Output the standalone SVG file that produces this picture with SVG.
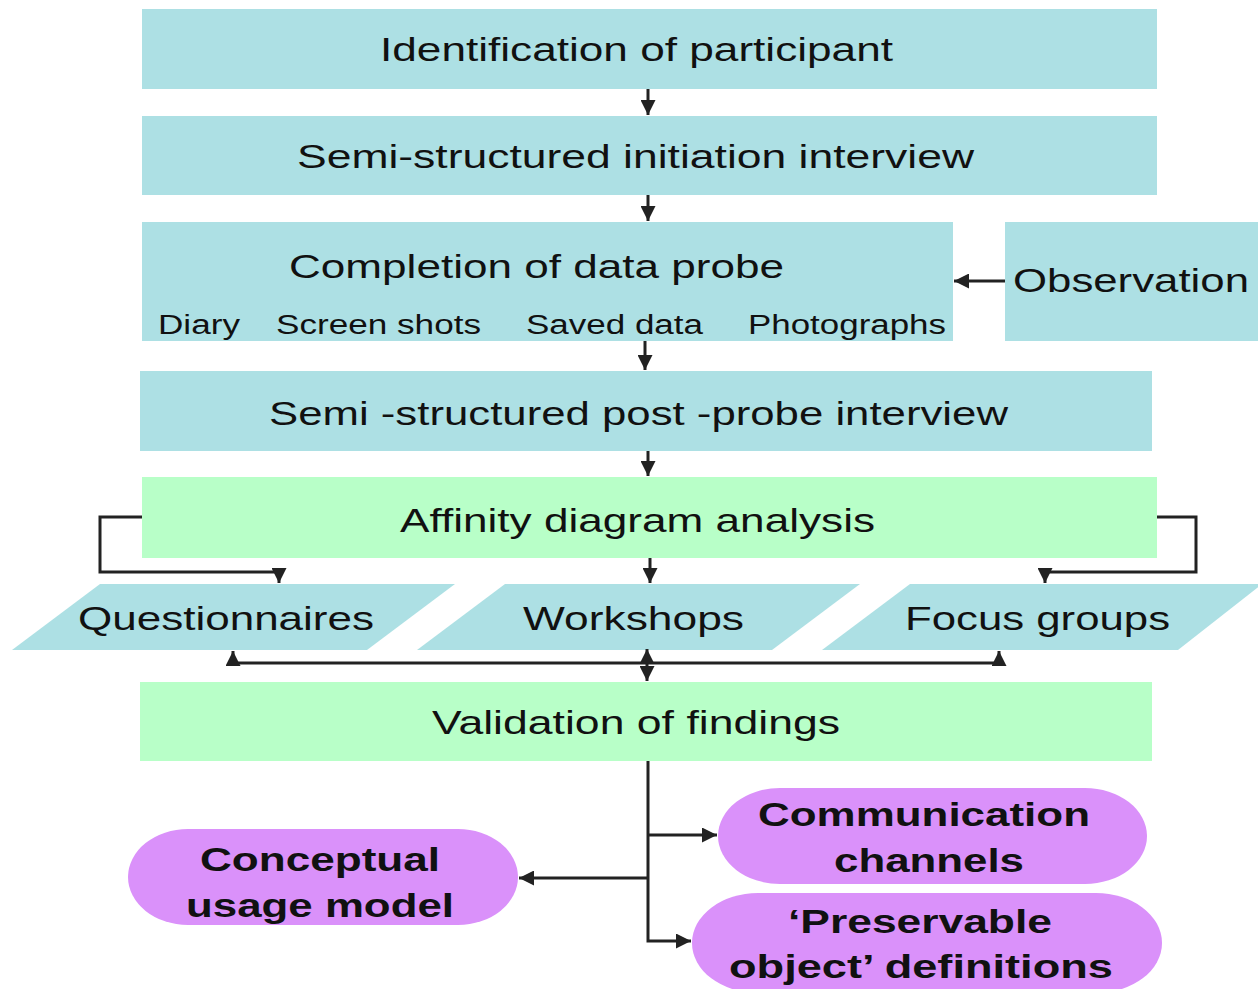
<svg xmlns="http://www.w3.org/2000/svg" width="1258" height="989" viewBox="0 0 1258 989">
<defs>
<style>
.blue{fill:#ade0e4}
.green{fill:#b8ffc8}
.purple{fill:#da91fa}
text{font-family:"Liberation Sans",Arial,sans-serif;fill:#111}
.t{font-size:33px}
.s{font-size:27px}
.b{font-size:34px;font-weight:bold}
.c{fill:none;stroke:#222;stroke-width:3}
</style>
<marker id="ah" viewBox="0 0 10 10" refX="10" refY="5" markerWidth="5" markerHeight="5" orient="auto-start-reverse" markerUnits="strokeWidth">
<path d="M0,0 L10,5 L0,10 Z" fill="#222"/>
</marker>
</defs>
<rect width="1258" height="989" fill="#fff"/>
<g id="n1"><rect class="blue" x="142" y="9" width="1015" height="80"/><text class="t" x="380" y="61" textLength="513" lengthAdjust="spacingAndGlyphs">Identification of participant</text></g>
<g id="n2"><rect class="blue" x="142" y="116" width="1015" height="79"/><text class="t" x="297" y="168" textLength="677" lengthAdjust="spacingAndGlyphs">Semi-structured initiation interview</text></g>
<g id="n3"><rect class="blue" x="142" y="222" width="811" height="119"/><text class="t" x="289" y="278" textLength="495" lengthAdjust="spacingAndGlyphs">Completion of data probe</text>
<text class="s" x="158" y="334" textLength="82" lengthAdjust="spacingAndGlyphs">Diary</text><text class="s" x="276" y="334" textLength="205" lengthAdjust="spacingAndGlyphs">Screen shots</text><text class="s" x="526" y="334" textLength="177" lengthAdjust="spacingAndGlyphs">Saved data</text><text class="s" x="748" y="334" textLength="198" lengthAdjust="spacingAndGlyphs">Photographs</text></g>
<g id="n4"><rect class="blue" x="1005" y="222" width="255" height="119"/><text class="t" x="1013" y="292" textLength="236" lengthAdjust="spacingAndGlyphs">Observation</text></g>
<g id="n5"><rect class="blue" x="140" y="371" width="1012" height="80"/><text class="t" x="269" y="425" textLength="739" lengthAdjust="spacingAndGlyphs">Semi -structured post -probe interview</text></g>
<g id="n6"><rect class="green" x="142" y="477" width="1015" height="81"/><text class="t" x="400" y="532" textLength="475" lengthAdjust="spacingAndGlyphs">Affinity diagram analysis</text></g>
<g id="n7"><polygon class="blue" points="100,584 455,584 367,650 12,650"/><text class="t" x="78" y="630" textLength="296" lengthAdjust="spacingAndGlyphs">Questionnaires</text></g>
<g id="n8"><polygon class="blue" points="505,584 860,584 772,650 417,650"/><text class="t" x="523" y="630" textLength="221" lengthAdjust="spacingAndGlyphs">Workshops</text></g>
<g id="n9"><polygon class="blue" points="910,584 1262,584 1178,650 822,650"/><text class="t" x="905" y="630" textLength="265" lengthAdjust="spacingAndGlyphs">Focus groups</text></g>
<g id="n10"><rect class="green" x="140" y="682" width="1012" height="79"/><text class="t" x="432" y="734" textLength="408" lengthAdjust="spacingAndGlyphs">Validation of findings</text></g>
<g id="n11"><rect class="purple" x="128" y="829" width="390" height="96" rx="60" ry="48"/><text class="b" x="200" y="871" textLength="240" lengthAdjust="spacingAndGlyphs">Conceptual</text><text class="b" x="186" y="917" textLength="268" lengthAdjust="spacingAndGlyphs">usage model</text></g>
<g id="n12"><rect class="purple" x="718" y="788" width="429" height="96" rx="62" ry="48"/><text class="b" x="758" y="826" textLength="332" lengthAdjust="spacingAndGlyphs">Communication</text><text class="b" x="834" y="872" textLength="190" lengthAdjust="spacingAndGlyphs">channels</text></g>
<g id="n13"><rect class="purple" x="692" y="893" width="470" height="100" rx="66" ry="50"/><text class="b" x="788" y="933" textLength="264" lengthAdjust="spacingAndGlyphs">‘Preservable</text><text class="b" x="729" y="978" textLength="384" lengthAdjust="spacingAndGlyphs">object’ definitions</text></g>
<g id="connectors">
<line class="c" x1="648" y1="89" x2="648" y2="115" marker-end="url(#ah)"/>
<line class="c" x1="648" y1="195" x2="648" y2="221" marker-end="url(#ah)"/>
<line class="c" x1="1005" y1="281" x2="954" y2="281" marker-end="url(#ah)"/>
<line class="c" x1="645" y1="341" x2="645" y2="370" marker-end="url(#ah)"/>
<line class="c" x1="648" y1="451" x2="648" y2="476" marker-end="url(#ah)"/>
<polyline class="c" points="142,517 100,517 100,572 279,572 279,583" marker-end="url(#ah)"/>
<polyline class="c" points="1157,517 1196,517 1196,572 1045,572 1045,583" marker-end="url(#ah)"/>
<line class="c" x1="650" y1="558" x2="650" y2="583" marker-end="url(#ah)"/>
<line class="c" x1="232" y1="663" x2="1000" y2="663"/>
<line class="c" x1="233" y1="663" x2="233" y2="651" marker-end="url(#ah)"/>
<line class="c" x1="999" y1="663" x2="999" y2="651" marker-end="url(#ah)"/>
<line class="c" x1="647" y1="663" x2="647" y2="649" marker-end="url(#ah)"/>
<line class="c" x1="647" y1="663" x2="647" y2="681" marker-end="url(#ah)"/>
<polyline class="c" points="648,761 648,941 691,941" marker-end="url(#ah)"/>
<line class="c" x1="648" y1="835" x2="717" y2="835" marker-end="url(#ah)"/>
<line class="c" x1="648" y1="878" x2="519" y2="878" marker-end="url(#ah)"/>
</g>
</svg>
